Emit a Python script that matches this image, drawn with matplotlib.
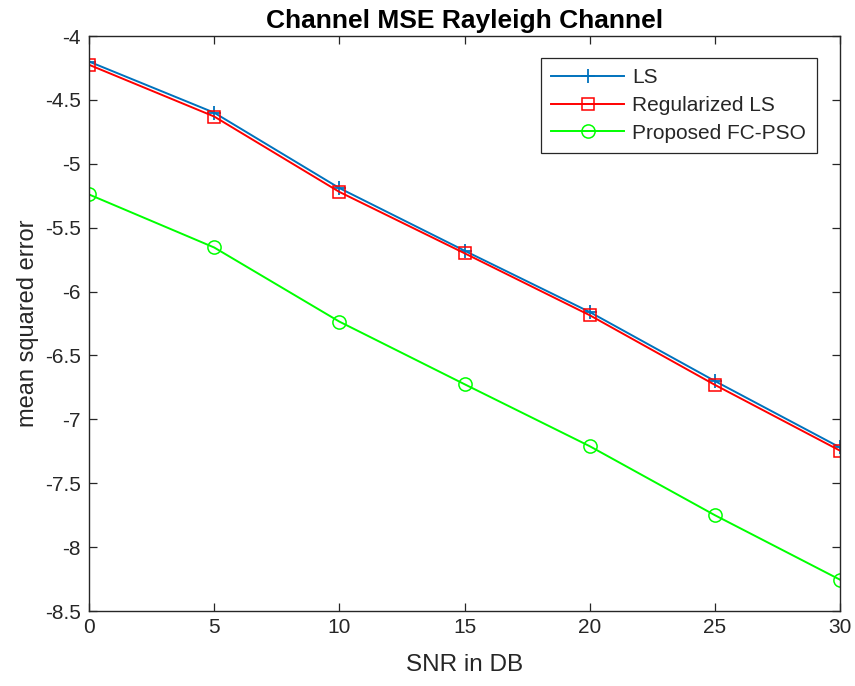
import matplotlib
matplotlib.use("Agg")
import matplotlib.pyplot as plt

# SNR sweep (dB) and channel-estimation MSE for each estimator
snr_db = [0, 5, 10, 15, 20, 25, 30]
mse_ls = [-4.20, -4.60, -5.19, -5.68, -6.16, -6.70, -7.22]
mse_reg_ls = [-4.225, -4.63, -5.22, -5.70, -6.185, -6.73, -7.245]
mse_fc_pso = [-5.24, -5.655, -6.235, -6.725, -7.21, -7.75, -8.255]

x_ticks = [0, 5, 10, 15, 20, 25, 30]
y_ticks = [-8.5, -8, -7.5, -7, -6.5, -6, -5.5, -5, -4.5, -4]
y_tick_labels = ["-8.5", "-8", "-7.5", "-7", "-6.5", "-6", "-5.5", "-5", "-4.5", "-4"]

plt.rcParams["font.family"] = ["Liberation Sans", "DejaVu Sans"]
axis_color = "#262626"

fig = plt.figure(figsize=(8.55, 6.86), dpi=100)
ax = fig.add_axes([0.1041, 0.1093, 0.8784, 0.8382])

ax.plot(snr_db, mse_ls, color="#0072BD", lw=1.4, marker="+", ms=10.5,
        mew=1.3, label="LS")
ax.plot(snr_db, mse_reg_ls, color="#FF0000", lw=1.4, marker="s", ms=8,
        mew=1.1, mfc="none", label="Regularized LS")
ax.plot(snr_db, mse_fc_pso, color="#00FF00", lw=1.4, marker="o", ms=9.5,
        mew=1.1, mfc="none", label="Proposed FC-PSO")

ax.set_xlim(0, 30)
ax.set_ylim(-8.5, -4)
ax.set_xticks(x_ticks)
ax.set_yticks(y_ticks)
ax.set_yticklabels(y_tick_labels)

ax.tick_params(direction="in", length=6, width=0.9, colors=axis_color,
               labelsize=15, top=True, right=True)
ax.tick_params(axis="y", pad=6)
ax.tick_params(axis="x", pad=5)
for sp in ax.spines.values():
    sp.set_color(axis_color)
    sp.set_linewidth(1.0)

ax.set_xlabel("SNR in DB", fontsize=17.5, color=axis_color, labelpad=12)
ax.set_ylabel("mean squared error", fontsize=17, color=axis_color, labelpad=4)
ax.set_title("Channel MSE Rayleigh Channel", fontsize=19, fontweight="bold",
             color="black", pad=6)

leg = ax.legend(loc="upper right", bbox_to_anchor=(0.969, 0.962),
                borderaxespad=0, fontsize=15, handlelength=3.5,
                handletextpad=0.4, labelspacing=0.42, borderpad=0.5,
                fancybox=False, framealpha=1, edgecolor=axis_color)
leg.get_frame().set_linewidth(0.9)
for t in leg.get_texts():
    t.set_color(axis_color)

fig.savefig("out.png", dpi=100)
